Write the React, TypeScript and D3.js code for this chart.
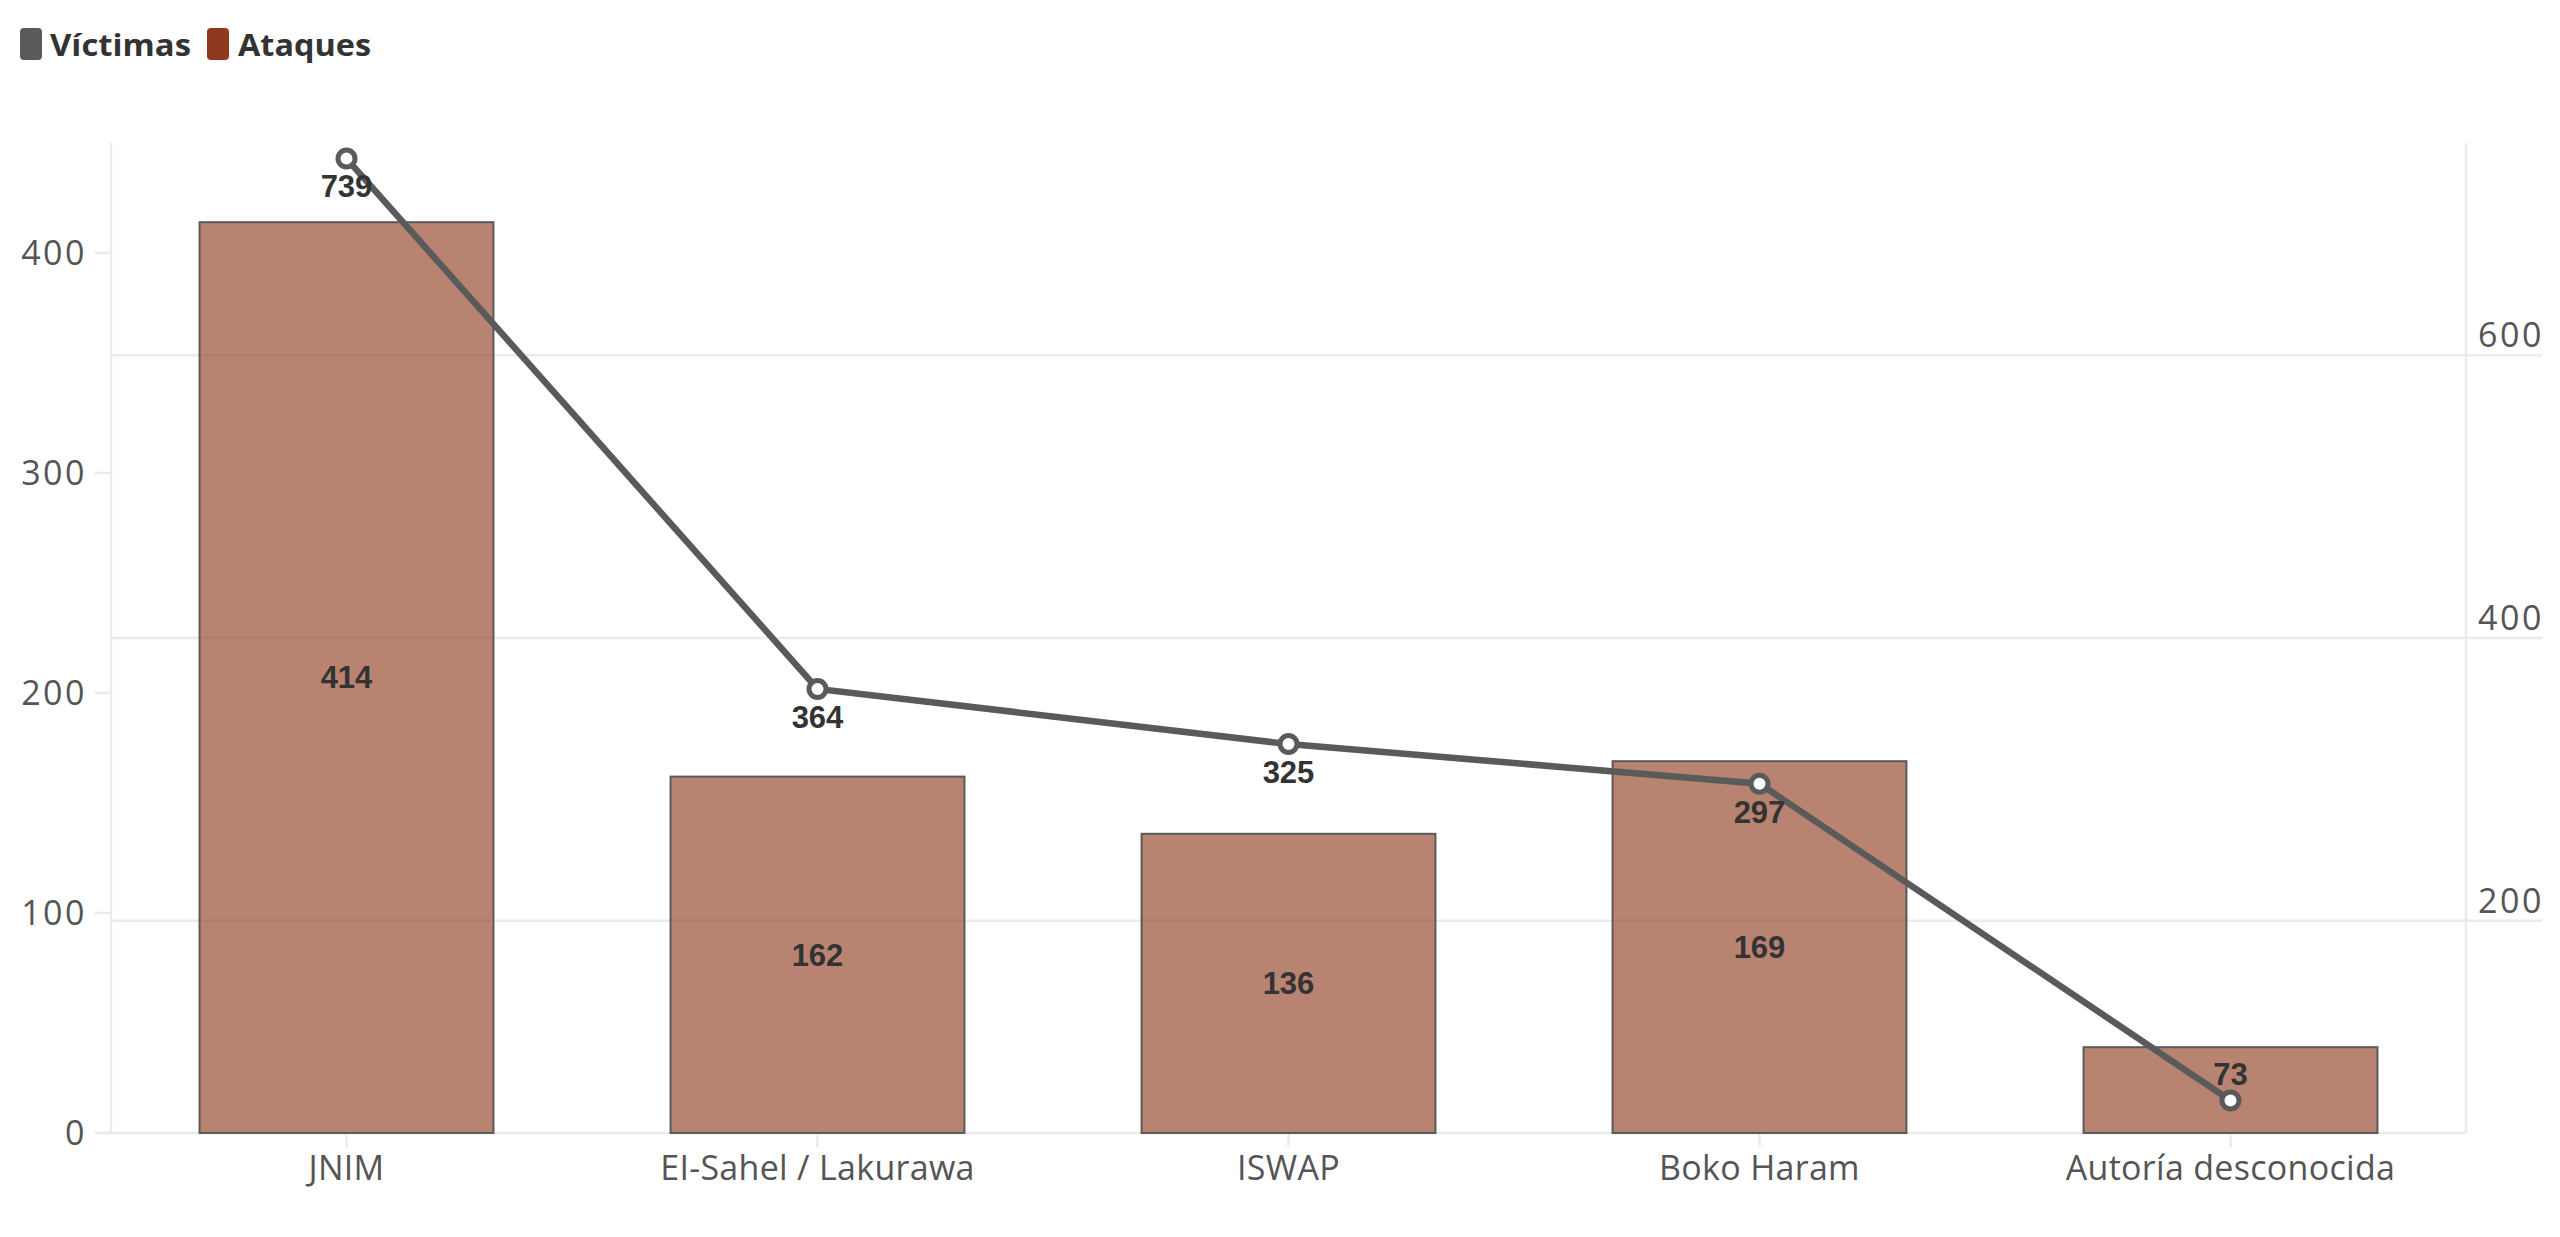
import * as d3 from 'd3';

const categories = ['JNIM', 'EI-Sahel / Lakurawa', 'ISWAP', 'Boko Haram', 'Autoría desconocida'];
const ataques = [414, 162, 136, 169, 39];
const victimas = [739, 364, 325, 297, 73];
const leftTicks = [0, 100, 200, 300, 400];
const rightTicks = [200, 400, 600];
// bar labels shown in the picture (the last one is hidden behind the point)
const showBarLabel = [true, true, true, true, false];
// victims labels: below the point, except the last one
const victimLabelAbove = [false, false, false, false, true];

const W = 2560;
const H = 1237;
const margin = { top: 143, right: 94, bottom: 104, left: 111 };

const GRAY = '#5a5a5a';
const RUST = '#8f3a1e';
const GRID = '#ebebeb';
const AXIS_FONT = '"Open Sans", "Noto Sans", sans-serif';
const LABEL_FONT = '"Liberation Sans", Arial, sans-serif';

export default function App() {
  const x0 = margin.left;
  const x1 = W - margin.right;
  const y0 = H - margin.bottom;
  const y1 = margin.top;

  const x = d3.scaleBand<string>().domain(categories).range([x0, x1]).paddingInner(0.376).paddingOuter(0.188);
  const yLeft = d3.scaleLinear().domain([0, 450]).range([y0, y1]);
  const yRight = d3.scaleLinear().domain([50, 750]).range([y0, y1]);

  const cx = (c: string) => (x(c) ?? 0) + x.bandwidth() / 2;

  const line = d3
    .line<number>()
    .x((_, i) => cx(categories[i]))
    .y((d) => yRight(d));

  return (
    <svg
      width={W}
      height={H}
      style={{ position: 'absolute', left: 0, top: 0, background: '#fff' }}
    >
      {/* legend */}
      <g fontFamily='"Open Sans", sans-serif' fontWeight={700} fontSize={31} fill="#333">
        <rect x={20} y={28} width={22} height={32} rx={4} fill={GRAY} />
        <text x={50} y={56} textLength={141} lengthAdjust="spacingAndGlyphs">Víctimas</text>
        <rect x={207} y={28} width={22} height={32} rx={4} fill={RUST} />
        <text x={238} y={56} textLength={133} lengthAdjust="spacingAndGlyphs">Ataques</text>
      </g>

      {/* gridlines from right axis */}
      {rightTicks.map((t) => (
        <line key={'g' + t} x1={x0} x2={W - 18} y1={yRight(t)} y2={yRight(t)} stroke={GRID} strokeWidth={2.5} />
      ))}

      {/* axis frame */}
      <line x1={x0} x2={x0} y1={y1} y2={y0} stroke={GRID} strokeWidth={2.5} />
      <line x1={x1} x2={x1} y1={y1} y2={y0} stroke={GRID} strokeWidth={2.5} />
      <line x1={x0} x2={x1} y1={y0} y2={y0} stroke={GRID} strokeWidth={2.5} />

      {/* left axis */}
      <g fontFamily={AXIS_FONT} fontSize={34} fill="#555" letterSpacing={2.5}>
        {leftTicks.map((t) => (
          <g key={'l' + t}>
            <line x1={x0 - 16} x2={x0} y1={yLeft(t)} y2={yLeft(t)} stroke={GRID} strokeWidth={2.5} />
            <text x={x0 - 24} y={yLeft(t)} dy="0.35em" textAnchor="end">
              {t}
            </text>
          </g>
        ))}
      </g>

      {/* right axis */}
      <g fontFamily={AXIS_FONT} fontSize={34} fill="#555" letterSpacing={2.5}>
        {rightTicks.map((t) => (
          <text key={'r' + t} x={x1 + 12} y={yRight(t) - 8}>
            {t}
          </text>
        ))}
      </g>

      {/* x axis */}
      <g fontFamily={AXIS_FONT} fontSize={34} fill="#555" letterSpacing={0.3}>
        {categories.map((c) => (
          <g key={'x' + c}>
            <line x1={cx(c)} x2={cx(c)} y1={y0} y2={y0 + 14} stroke={GRID} strokeWidth={2.5} />
            <text x={cx(c)} y={y0 + 47} textAnchor="middle">
              {c}
            </text>
          </g>
        ))}
      </g>

      {/* bars */}
      {categories.map((c, i) => (
        <rect
          key={'b' + c}
          x={x(c)}
          y={yLeft(ataques[i])}
          width={x.bandwidth()}
          height={y0 - yLeft(ataques[i])}
          fill={RUST}
          fillOpacity={0.63}
          stroke={GRAY}
          strokeWidth={2}
        />
      ))}

      {/* bar labels */}
      <g fontFamily={LABEL_FONT} fontWeight={700} fontSize={31} fill="#333" textAnchor="middle">
        {categories.map((c, i) =>
          showBarLabel[i] ? (
            <text key={'bl' + c} x={cx(c)} y={(yLeft(ataques[i]) + y0) / 2} dy="0.35em">
              {ataques[i]}
            </text>
          ) : null
        )}
      </g>

      {/* victims line */}
      <path d={line(victimas) ?? ''} fill="none" stroke={GRAY} strokeWidth={6.5} />
      {categories.map((c, i) => (
        <circle key={'p' + c} cx={cx(c)} cy={yRight(victimas[i])} r={8.5} fill="#fff" stroke={GRAY} strokeWidth={5} />
      ))}
      <g fontFamily={LABEL_FONT} fontWeight={700} fontSize={31} fill="#333" textAnchor="middle">
        {categories.map((c, i) => (
          <text
            key={'vl' + c}
            x={cx(c)}
            y={yRight(victimas[i]) + (victimLabelAbove[i] ? -26 : 28)}
            dy="0.35em"
          >
            {victimas[i]}
          </text>
        ))}
      </g>
    </svg>
  );
}
